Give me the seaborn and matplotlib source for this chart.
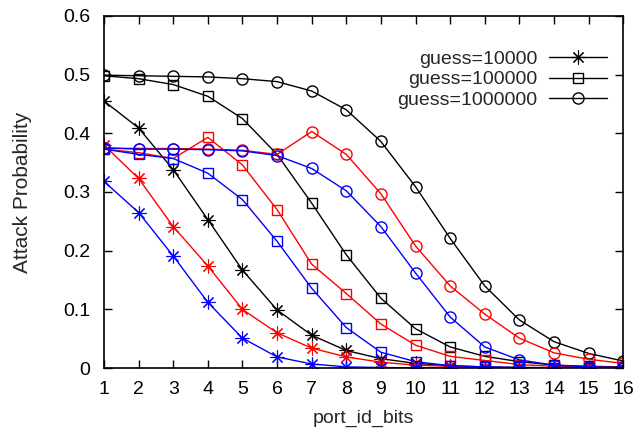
import matplotlib
matplotlib.use("Agg")
import matplotlib.pyplot as plt
from matplotlib.lines import Line2D
import seaborn as sns
import pandas as pd

# x axis: number of port-id bits
port_id_bits = list(range(1, 17))

# guess=10000 (asterisk)
black_guess_10k = [0.455, 0.409, 0.338, 0.253, 0.167, 0.099, 0.056, 0.030,
                   0.016, 0.008, 0.004, 0.002, 0.001, 0.0005, 0.0002, 0.0001]
red_guess_10k = [0.380, 0.323, 0.241, 0.174, 0.100, 0.060, 0.034, 0.019,
                 0.010, 0.005, 0.003, 0.001, 0.0007, 0.0003, 0.0002, 0.0001]
blue_guess_10k = [0.318, 0.265, 0.191, 0.112, 0.051, 0.019, 0.007, 0.002,
                  0.001, 0.0003, 0.0001, 0.0, 0.0, 0.0, 0.0, 0.0]

# guess=100000 (square)
black_guess_100k = [0.498, 0.493, 0.483, 0.463, 0.425, 0.364, 0.281, 0.193,
                    0.119, 0.067, 0.036, 0.020, 0.011, 0.005, 0.003, 0.002]
red_guess_100k = [0.373, 0.367, 0.357, 0.393, 0.346, 0.270, 0.177, 0.127,
                  0.075, 0.039, 0.020, 0.013, 0.006, 0.003, 0.002, 0.001]
blue_guess_100k = [0.373, 0.364, 0.357, 0.332, 0.287, 0.216, 0.136, 0.069,
                   0.027, 0.011, 0.004, 0.002, 0.001, 0.0005, 0.0002, 0.0001]

# guess=1000000 (circle)
black_guess_1m = [0.499, 0.498, 0.497, 0.496, 0.493, 0.488, 0.472, 0.440,
                  0.386, 0.309, 0.221, 0.140, 0.082, 0.045, 0.025, 0.012]
red_guess_1m = [0.375, 0.374, 0.374, 0.373, 0.371, 0.364, 0.403, 0.364,
                0.297, 0.208, 0.140, 0.092, 0.051, 0.026, 0.015, 0.008]
blue_guess_1m = [0.375, 0.373, 0.373, 0.372, 0.370, 0.362, 0.340, 0.302,
                 0.241, 0.162, 0.087, 0.036, 0.014, 0.005, 0.002, 0.001]

legend_labels = ["guess=10000", "guess=100000", "guess=1000000"]
y_ticks = [0, 0.1, 0.2, 0.3, 0.4, 0.5, 0.6]
y_tick_labels = ["0", "0.1", "0.2", "0.3", "0.4", "0.5", "0.6"]

series = [
    ("black", legend_labels[0], black_guess_10k),
    ("black", legend_labels[1], black_guess_100k),
    ("black", legend_labels[2], black_guess_1m),
    ("red", legend_labels[0], red_guess_10k),
    ("red", legend_labels[1], red_guess_100k),
    ("red", legend_labels[2], red_guess_1m),
    ("blue", legend_labels[0], blue_guess_10k),
    ("blue", legend_labels[1], blue_guess_100k),
    ("blue", legend_labels[2], blue_guess_1m),
]

marker_for = {
    legend_labels[0]: (8, 2, 0),   # gnuplot-style asterisk (+ and x)
    legend_labels[1]: "s",
    legend_labels[2]: "o",
}
size_for = {legend_labels[0]: 10.0, legend_labels[1]: 7.6, legend_labels[2]: 8.0}
edge_for = {legend_labels[0]: 0.8, legend_labels[1]: 1.0, legend_labels[2]: 1.0}
color_values = {"black": "#000000", "red": "#ff0000", "blue": "#0000ff"}

sns.set_theme(style="ticks")
plt.rcParams["font.family"] = ["Liberation Sans", "DejaVu Sans"]
plt.rcParams["font.size"] = 14

fig = plt.figure(figsize=(6.34, 4.29), dpi=100)
ax = fig.add_axes([0.164, 0.142, 0.819, 0.821])

for color_key, guess, values in series:
    df = pd.DataFrame({"port_id_bits": port_id_bits, "prob": values})
    col = color_values[color_key]
    sns.lineplot(
        data=df, x="port_id_bits", y="prob", ax=ax, legend=False,
        color=col, linewidth=1.0, marker=marker_for[guess],
        markersize=size_for[guess], markerfacecolor="none",
        markeredgecolor=col, markeredgewidth=edge_for[guess],
    )

ax.set_xlim(1, 16)
ax.set_ylim(0, 0.6)
ax.set_xticks(port_id_bits)
ax.set_xticklabels([str(v) for v in port_id_bits])
ax.set_yticks(y_ticks)
ax.set_yticklabels(y_tick_labels)
ax.set_xlabel("port_id_bits", fontsize=14, labelpad=9)
ax.set_ylabel("Attack Probability", fontsize=15, labelpad=22)

ax.tick_params(axis="both", which="major", direction="in", length=6,
               width=1.0, color="black", labelsize=14,
               top=True, right=True, labelcolor="black")
ax.tick_params(axis="x", pad=9)
ax.tick_params(axis="y", pad=10)
for side in ["left", "right", "top", "bottom"]:
    ax.spines[side].set_visible(True)
    ax.spines[side].set_color("black")
    ax.spines[side].set_linewidth(1.2)

handles = [
    Line2D([], [], color="black", linewidth=1.0, marker=marker_for[g],
           markersize=size_for[g], markerfacecolor="none",
           markeredgecolor="black", markeredgewidth=edge_for[g])
    for g in legend_labels
]
ax.legend(handles, legend_labels, loc="upper right",
          bbox_to_anchor=(0.988, 0.93), frameon=False, markerfirst=False,
          handlelength=3.0, handletextpad=0.6, labelspacing=0.15,
          fontsize=14, borderpad=0.0)

fig.savefig("out.png", dpi=100)
